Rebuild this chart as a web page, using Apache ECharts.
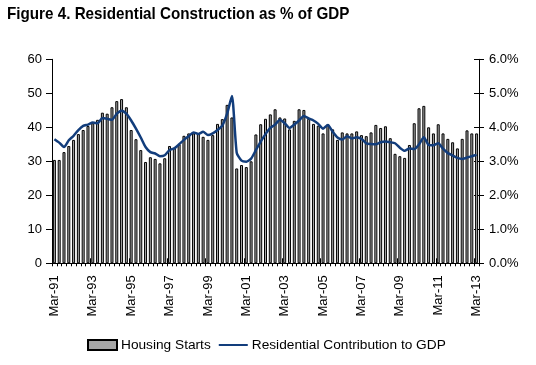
<!DOCTYPE html>
<html>
<head>
<meta charset="utf-8">
<script src="https://cdn.jsdelivr.net/npm/echarts@6/dist/echarts.min.js"></script>
<style>
html,body{margin:0;padding:0;background:#fff;}
#chart{width:536px;height:365px;}
</style>
</head>
<body>
<div id="chart"></div>
<script>
// Quarterly categories Mar-91 .. Mar-13
const years = ['91','92','93','94','95','96','97','98','99','00','01','02','03','04','05','06','07','08','09','10','11','12','13'];
const quarterMonths = ['Mar','Jun','Sep','Dec'];
const categories = [];
years.forEach(function (y, yi) {
  quarterMonths.forEach(function (m, qi) {
    if (yi === years.length - 1 && qi > 0) return;
    categories.push(m + '-' + y);
  });
});

// Housing starts (left axis)
const housingStarts = [
  30.4, 30.4, 32.7, 34.5, 36.3, 38.0, 39.2, 40.4, 41.2, 42.2,
  44.3, 44.0, 45.9, 47.7, 48.3, 45.9, 39.2, 36.5, 33.3, 29.8,
  31.2, 30.7, 29.4, 30.9, 34.5, 34.0, 35.0, 37.5, 38.2, 38.2,
  38.2, 37.2, 36.3, 37.7, 41.0, 42.4, 46.6, 42.9, 27.9, 28.9,
  28.3, 30.0, 37.9, 40.9, 42.5, 43.8, 45.3, 42.9, 42.6, 39.4,
  41.9, 45.3, 45.1, 42.5, 41.0, 40.5, 38.2, 40.9, 39.4, 36.3,
  38.5, 38.2, 38.2, 38.8, 37.7, 37.4, 38.5, 40.7, 39.8, 40.3,
  36.8, 32.2, 31.5, 31.0, 34.8, 41.2, 45.6, 46.3, 40.0, 38.2,
  40.9, 38.2, 36.6, 35.6, 33.8, 36.6, 39.1, 38.2, 38.2
];

// Residential contribution to GDP, % (right axis)
const residentialGDP = [
  3.65, 3.55, 3.42, 3.62, 3.75, 3.92, 4.04, 4.08, 4.14, 4.12,
  4.27, 4.25, 4.22, 4.40, 4.49, 4.40, 4.20, 3.96, 3.70, 3.42,
  3.27, 3.23, 3.15, 3.18, 3.33, 3.38, 3.50, 3.63, 3.74, 3.85,
  3.80, 3.87, 3.77, 3.82, 3.92, 4.05, 4.40, 4.92, 3.25, 3.02,
  2.99, 3.08, 3.33, 3.58, 3.80, 3.98, 4.08, 4.22, 4.12, 3.98,
  4.08, 4.20, 4.33, 4.26, 4.20, 4.10, 3.96, 4.07, 3.87, 3.70,
  3.64, 3.74, 3.67, 3.71, 3.66, 3.53, 3.51, 3.50, 3.56, 3.58,
  3.56, 3.53, 3.40, 3.31, 3.38, 3.36, 3.50, 3.71, 3.48, 3.47,
  3.53, 3.37, 3.24, 3.17, 3.10, 3.07, 3.11, 3.15, 3.19
];

const leftTicks = [0, 10, 20, 30, 40, 50, 60];
const rightTicks = [0, 1, 2, 3, 4, 5, 6];

const FONT = "'Liberation Sans', Arial, sans-serif";

const chart = echarts.init(document.getElementById('chart'), null, {renderer: 'canvas'});
chart.setOption({
  animation: false,
  backgroundColor: '#fff',
  graphic: [{
    type: 'text', x: 7, y: 6, scaleX: 0.895, scaleY: 1,
    style: {
      text: 'Figure 4. Residential Construction as % of GDP',
      fontFamily: FONT, fontWeight: 'bold', fontSize: 17, fill: '#000',
      textVerticalAlign: 'top', verticalAlign: 'top'
    }
  }],
  legend: {
    left: 87, top: 338, padding: 0,
    itemWidth: 29, itemHeight: 10, itemGap: 7,
    textStyle: {fontFamily: FONT, fontSize: 13.7, color: '#000', padding: [0, 0, 0, -1]},
    data: [
      {name: 'Housing Starts', icon: 'rect'},
      {name: 'Residential Contribution to GDP', itemStyle: {opacity: 0}}
    ]
  },
  grid: {left: 52, right: 57, top: 59.3, bottom: 101.7, containLabel: false},
  xAxis: [
    {
      type: 'category', data: categories, boundaryGap: true,
      axisLine: {show: true, lineStyle: {color: '#000', width: 1}},
      axisTick: {show: true, interval: 0, length: 3, lineStyle: {color: '#000'}},
      axisLabel: {interval: 7, rotate: 90, margin: 12, fontFamily: FONT, fontSize: 13, color: '#000'},
      splitLine: {show: false}
    },
    {
      type: 'category', data: categories, boundaryGap: true, position: 'bottom',
      axisLine: {show: false},
      axisTick: {show: true, interval: 7, inside: true, length: 5, lineStyle: {color: '#000'}},
      axisLabel: {show: false},
      splitLine: {show: false}
    }
  ],
  yAxis: [
    {
      type: 'value', position: 'left', min: leftTicks[0], max: leftTicks[leftTicks.length - 1], interval: 10,
      axisLine: {show: true, lineStyle: {color: '#000'}},
      axisTick: {show: true, length: 6, lineStyle: {color: '#000'}},
      axisLabel: {margin: 10, fontFamily: FONT, fontSize: 13, color: '#000'},
      splitLine: {show: false}
    },
    {
      type: 'value', position: 'right', min: rightTicks[0], max: rightTicks[rightTicks.length - 1], interval: 1,
      axisLine: {show: true, lineStyle: {color: '#000'}},
      axisTick: {show: true, length: 5, lineStyle: {color: '#000'}},
      axisLabel: {margin: 10, fontFamily: FONT, fontSize: 13, color: '#000',
        formatter: function (v) { return v.toFixed(1) + '%'; }},
      splitLine: {show: false}
    },
    {
      type: 'value', position: 'right', min: 0, max: 6, interval: 1,
      axisLine: {show: false},
      axisTick: {show: true, inside: true, length: 5, lineStyle: {color: '#000'}},
      axisLabel: {show: false},
      splitLine: {show: false}
    }
  ],
  series: [
    {
      name: 'Housing Starts', type: 'bar', xAxisIndex: 0, yAxisIndex: 0,
      data: housingStarts, barWidth: 3,
      itemStyle: {color: '#a6a6a6', borderColor: '#000', borderWidth: 1}
    },
    {
      name: 'Residential Contribution to GDP', type: 'line', xAxisIndex: 0, yAxisIndex: 1,
      data: residentialGDP, symbol: 'none', smooth: 0.2,
      lineStyle: {color: '#123d7c', width: 2.5},
      itemStyle: {color: '#123d7c'}
    }
  ]
});
</script>
</body>
</html>
